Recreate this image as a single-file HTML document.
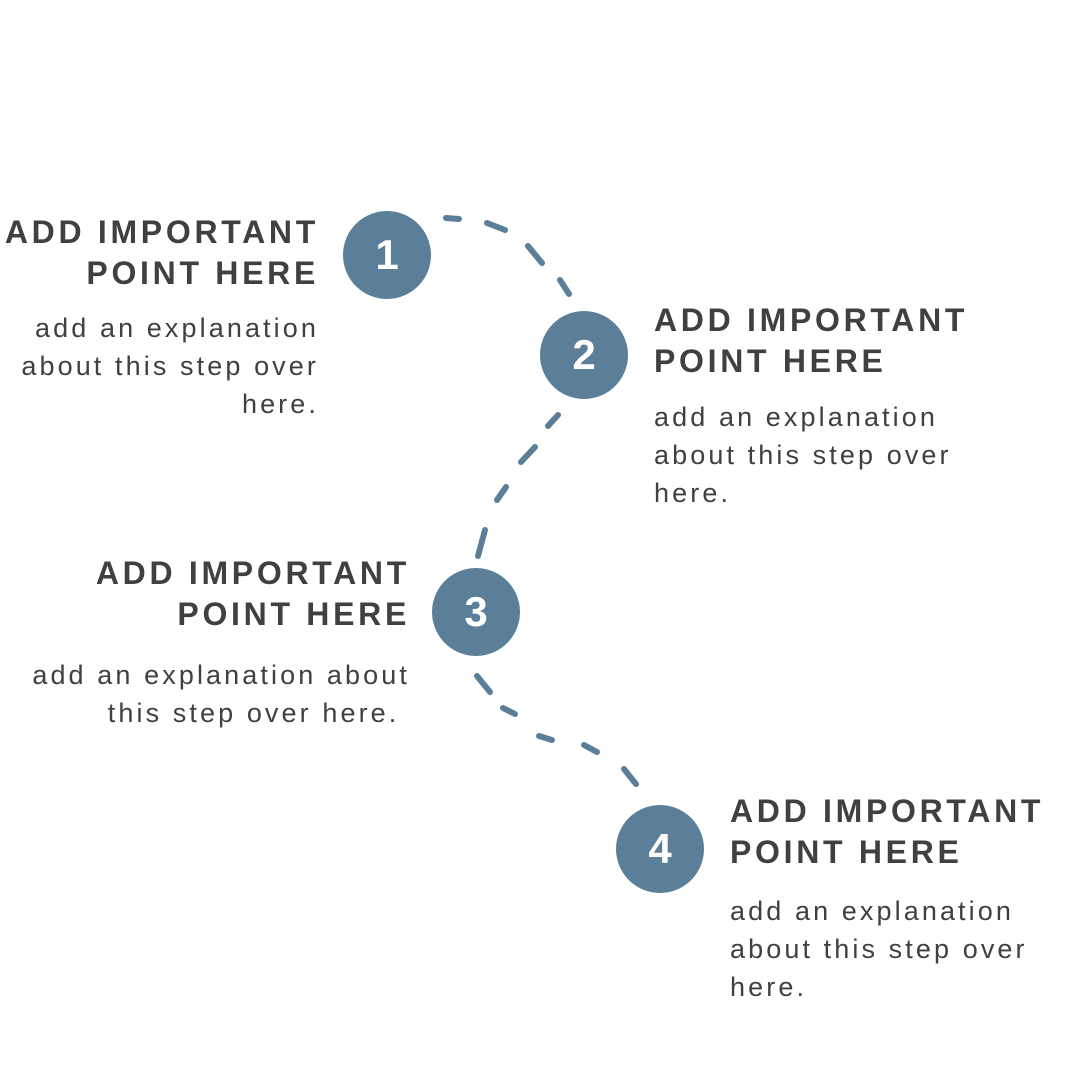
<!DOCTYPE html>
<html><head><style>
body{margin:0;width:1080px;height:1080px;background:#fff;position:relative;overflow:hidden;font-family:"Liberation Sans",sans-serif;color:#404040}
.h{position:absolute;font-weight:bold;font-size:32px;line-height:41px;letter-spacing:3.7px;white-space:nowrap}
.b{position:absolute;font-size:27px;line-height:38px;white-space:nowrap;letter-spacing:3.1px}
.r{text-align:right}
.h.r,.b.r{margin-right:-1px}
.c{position:absolute;width:88px;height:88px;border-radius:50%;background:#5b7f98;color:#fff;font-weight:bold;font-size:42px;line-height:88px;text-align:center}
</style></head><body>
<svg width="1080" height="1080" style="position:absolute;left:0;top:0" stroke="#5b7f98" stroke-width="6" stroke-linecap="round" fill="none">
<line x1="446" y1="218" x2="459" y2="219"/><line x1="487" y1="223" x2="505" y2="230"/><line x1="528" y1="246" x2="542" y2="263"/><line x1="560" y1="280" x2="569" y2="294"/>
<line x1="558" y1="415" x2="548" y2="426"/><line x1="535" y1="447" x2="521" y2="462"/><line x1="506" y1="487" x2="497" y2="500"/><line x1="485" y1="530" x2="478" y2="556"/>
<line x1="477" y1="676" x2="490" y2="692"/><line x1="503" y1="708" x2="515" y2="714"/><line x1="539" y1="736" x2="552" y2="740"/><line x1="584" y1="745" x2="597" y2="752"/><line x1="624" y1="769" x2="636" y2="784"/>
</svg>
<div class="c" style="left:343px;top:211px">1</div>
<div class="c" style="left:540px;top:311px">2</div>
<div class="c" style="left:432px;top:568px">3</div>
<div class="c" style="left:616px;top:805px">4</div>
<div class="h r" style="right:762px;top:212px">ADD IMPORTANT<br>POINT HERE</div>
<div class="b r" style="right:762px;top:309px">add an explanation<br>about this step over<br>here.</div>
<div class="h" style="left:654px;top:300px">ADD IMPORTANT<br>POINT HERE</div>
<div class="b" style="left:654px;top:398px">add an explanation<br>about this step over<br>here.</div>
<div class="h r" style="right:671px;top:553px">ADD IMPORTANT<br>POINT HERE</div>
<div class="b r" style="right:671px;top:656px">add an explanation about<br>this step over here.&nbsp;</div>
<div class="h" style="left:730px;top:791px">ADD IMPORTANT<br>POINT HERE</div>
<div class="b" style="left:730px;top:892px">add an explanation<br>about this step over<br>here.</div>
</body></html>
